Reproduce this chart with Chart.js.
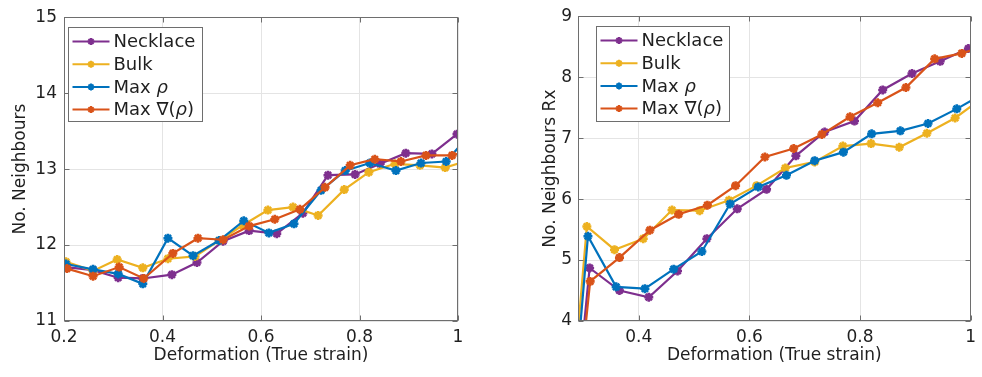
<!DOCTYPE html>
<html>
<head>
<meta charset="utf-8">
<script src="https://cdn.jsdelivr.net/npm/chart.js@4.4.0/dist/chart.umd.min.js"></script>
<style>
  html, body { margin: 0; padding: 0; background: #fff; }
  #wrap { position: relative; width: 982px; height: 377px; overflow: hidden; }
  canvas { position: absolute; top: 0; }
  #left { left: 0; }
  #right { left: 490px; }
</style>
</head>
<body>
<div id="wrap">
  <canvas id="left" width="490" height="377"></canvas>
  <canvas id="right" width="492" height="377"></canvas>
</div>
<script>
// ── Data ────────────────────────────────────────────────────────

const SERIES_NAMES  = ["Necklace", "Bulk", "Max ρ", "Max ∇(ρ)"];
const SERIES_COLORS = ["#7E2F8E", "#EDB120", "#0072BD", "#D95319"];

const X_TITLE       = "Deformation (True strain)";
const LEFT_Y_TITLE  = "No. Neighbours";
const RIGHT_Y_TITLE = "No. Neighbours Rx";

const LEFT_X_TICKS  = [0.2, 0.4, 0.6, 0.8, 1];
const LEFT_Y_TICKS  = [11, 12, 13, 14, 15];
const RIGHT_X_TICKS = [0.4, 0.6, 0.8, 1];
const RIGHT_Y_TICKS = [4, 5, 6, 7, 8, 9];

// left panel: No. Neighbours
const L_NECKLACE_X = [0.204, 0.259, 0.310, 0.360, 0.419, 0.470, 0.523, 0.576, 0.632, 0.685, 0.736, 0.791, 0.842, 0.894, 0.947, 0.998];
const L_NECKLACE_Y = [11.71, 11.67, 11.57, 11.56, 11.61, 11.77, 12.05, 12.19, 12.15, 12.42, 12.92, 12.93, 13.07, 13.21, 13.20, 13.46];
const L_BULK_X     = [0.204, 0.259, 0.308, 0.360, 0.411, 0.466, 0.515, 0.563, 0.614, 0.665, 0.716, 0.769, 0.819, 0.872, 0.923, 0.974, 1.024];
const L_BULK_Y     = [11.78, 11.66, 11.81, 11.70, 11.82, 11.85, 12.06, 12.26, 12.46, 12.50, 12.39, 12.73, 12.96, 13.07, 13.05, 13.02, 13.12];
const L_MAXRHO_X   = [0.204, 0.259, 0.310, 0.360, 0.411, 0.462, 0.515, 0.565, 0.616, 0.667, 0.722, 0.771, 0.821, 0.874, 0.925, 0.976, 1.026];
const L_MAXRHO_Y   = [11.75, 11.68, 11.62, 11.49, 12.09, 11.86, 12.06, 12.32, 12.16, 12.28, 12.72, 12.98, 13.08, 12.98, 13.08, 13.10, 13.47];
const L_MAXGRAD_X  = [0.206, 0.259, 0.312, 0.362, 0.421, 0.472, 0.523, 0.576, 0.628, 0.679, 0.730, 0.781, 0.831, 0.884, 0.935, 0.988, 1.039];
const L_MAXGRAD_Y  = [11.69, 11.59, 11.71, 11.56, 11.89, 12.09, 12.07, 12.25, 12.34, 12.47, 12.76, 13.05, 13.13, 13.10, 13.18, 13.18, 13.28];

// right panel: No. Neighbours Rx
const R_NECKLACE_X = [0.259, 0.311, 0.365, 0.418, 0.470, 0.523, 0.578, 0.631, 0.684, 0.736, 0.790, 0.841, 0.894, 0.945, 0.996];
const R_NECKLACE_Y = [0, 4.87, 4.50, 4.39, 4.82, 5.35, 5.84, 6.16, 6.71, 7.10, 7.28, 7.79, 8.06, 8.26, 8.47];
const R_BULK_X     = [0.254, 0.306, 0.356, 0.408, 0.460, 0.510, 0.563, 0.613, 0.665, 0.718, 0.769, 0.820, 0.871, 0.921, 0.972, 1.022];
const R_BULK_Y     = [0, 5.55, 5.17, 5.35, 5.82, 5.81, 5.98, 6.22, 6.51, 6.61, 6.87, 6.91, 6.85, 7.08, 7.33, 7.66];
const R_MAXRHO_X   = [0.257, 0.308, 0.359, 0.411, 0.463, 0.514, 0.565, 0.616, 0.667, 0.718, 0.770, 0.821, 0.873, 0.923, 0.975, 1.026];
const R_MAXRHO_Y   = [0, 5.39, 4.56, 4.53, 4.85, 5.14, 5.92, 6.20, 6.39, 6.63, 6.77, 7.07, 7.12, 7.24, 7.48, 7.74];
const R_MAXGRAD_X  = [0.259, 0.312, 0.365, 0.420, 0.472, 0.524, 0.575, 0.628, 0.680, 0.731, 0.782, 0.832, 0.883, 0.935, 0.984, 1.035];
const R_MAXGRAD_Y  = [0, 4.65, 5.04, 5.49, 5.75, 5.90, 6.22, 6.69, 6.83, 7.06, 7.35, 7.58, 7.83, 8.30, 8.39, 8.54];

// ── Style ───────────────────────────────────────────────────────

const FONT       = "DejaVu Sans";
const TEXT_COLOR = "#1f1f1f";
const AXIS_COLOR = "#6e6e6e";
const GRID_COLOR = "#e4e4e4";
const TICK_LEN   = 5;

// ── MATLAB-like box, inner ticks and legend ─────────────────────

function drawStar(ctx, x, y, r) {
  const d = r * Math.SQRT1_2;
  ctx.beginPath();
  ctx.moveTo(x - r, y); ctx.lineTo(x + r, y);
  ctx.moveTo(x, y - r); ctx.lineTo(x, y + r);
  ctx.moveTo(x - d, y - d); ctx.lineTo(x + d, y + d);
  ctx.moveTo(x - d, y + d); ctx.lineTo(x + d, y - d);
  ctx.stroke();
}

function drawLabel(ctx, text, x, y, size) {
  // rho in italic like the TeX interpreter does
  text.split(/(ρ)/).forEach(part => {
    if (!part) return;
    ctx.font = (part === "ρ" ? "italic " : "") + size + "px '" + FONT + "'";
    ctx.fillText(part, x, y);
    x += ctx.measureText(part).width;
  });
}

const matlabAxes = {
  id: "matlabAxes",
  afterDraw(chart, args, opts) {
    const { ctx, chartArea: a, scales } = chart;
    const L = Math.round(a.left) + 0.5, R = Math.round(a.right) - 0.5;
    const T = Math.round(a.top) + 0.5, B = Math.round(a.bottom) - 0.5;
    ctx.save();
    ctx.strokeStyle = AXIS_COLOR;
    ctx.lineWidth = 1;
    ctx.beginPath();
    scales.x.ticks.forEach(t => {
      const px = Math.round(scales.x.getPixelForValue(t.value)) + 0.5;
      ctx.moveTo(px, B); ctx.lineTo(px, B - TICK_LEN);
      ctx.moveTo(px, T); ctx.lineTo(px, T + TICK_LEN);
    });
    scales.y.ticks.forEach(t => {
      const py = Math.round(scales.y.getPixelForValue(t.value)) + 0.5;
      ctx.moveTo(L, py); ctx.lineTo(L + TICK_LEN, py);
      ctx.moveTo(R, py); ctx.lineTo(R - TICK_LEN, py);
    });
    ctx.stroke();
    ctx.strokeRect(L, T, R - L, B - T);

    // legend
    const lg = opts.legend;
    const x0 = Math.round(a.left + lg.dx) + 0.5, y0 = Math.round(a.top + lg.dy) + 0.5;
    ctx.fillStyle = "#fff";
    ctx.fillRect(x0, y0, lg.w, lg.h);
    ctx.strokeRect(x0, y0, lg.w, lg.h);
    ctx.textBaseline = "middle";
    ctx.textAlign = "left";
    chart.data.datasets.forEach((ds, i) => {
      const yy = y0 + 14 + i * 22.7;
      ctx.strokeStyle = ds.borderColor;
      ctx.lineWidth = 2;
      ctx.beginPath();
      ctx.moveTo(x0 + 4, yy); ctx.lineTo(x0 + 41, yy);
      ctx.stroke();
      drawStar(ctx, x0 + 22.5, yy, 3.5);
      ctx.fillStyle = TEXT_COLOR;
      drawLabel(ctx, ds.label, x0 + 45, yy + 1, 18);
    });
    ctx.restore();
  },
};

// ── Build one panel ─────────────────────────────────────────────

function makePanel(canvasId, p) {
  const datasets = p.series.map((s, i) => ({
    label: SERIES_NAMES[i],
    data: s[0].map((x, k) => ({ x, y: s[1][k] })),
    showLine: true,
    borderColor: SERIES_COLORS[i],
    backgroundColor: SERIES_COLORS[i],
    borderWidth: 2.2,
    pointStyle: "star",
    pointRadius: 4.5,
    pointBorderWidth: 2.6,
    pointBorderColor: SERIES_COLORS[i],
    order: 3 - i,
    clip: 0,
  }));

  const tickFont = { family: FONT, size: 17 };
  const titleFont = { family: FONT, size: 17 };

  return new Chart(document.getElementById(canvasId), {
    type: "scatter",
    data: { datasets },
    options: {
      responsive: false,
      animation: false,
      events: [],
      layout: { padding: { left: 0, right: p.padRight, top: 15, bottom: 0 } },
      plugins: {
        legend: { display: false },
        tooltip: { enabled: false },
        matlabAxes: { legend: p.legend },
      },
      scales: {
        x: {
          type: "linear",
          min: p.xMin,
          max: p.xMax,
          afterBuildTicks: sc => { sc.ticks = p.xTicks.map(v => ({ value: v })); },
          afterFit: sc => { sc.height = 56; },
          grid: { color: GRID_COLOR, drawTicks: false },
          border: { display: false },
          ticks: { padding: 6, color: TEXT_COLOR, font: tickFont, maxRotation: 0, callback: v => String(v) },
          title: { display: true, text: X_TITLE, color: TEXT_COLOR, font: titleFont, padding: { top: 0, bottom: 11 } },
        },
        y: {
          type: "linear",
          min: p.yMin,
          max: p.yMax,
          afterBuildTicks: sc => { sc.ticks = p.yTicks.map(v => ({ value: v })); },
          afterFit: sc => { sc.width = p.yWidth; },
          grid: { color: GRID_COLOR, drawTicks: false },
          border: { display: false },
          ticks: { padding: p.yTickPad, color: TEXT_COLOR, font: tickFont, callback: v => String(v) },
          title: { display: true, text: p.yTitle, color: TEXT_COLOR, font: titleFont, padding: { top: p.yTitlePad, bottom: 0 } },
        },
      },
    },
    plugins: [matlabAxes],
  });
}

makePanel("left", {
  series: [
    [L_NECKLACE_X, L_NECKLACE_Y],
    [L_BULK_X, L_BULK_Y],
    [L_MAXRHO_X, L_MAXRHO_Y],
    [L_MAXGRAD_X, L_MAXGRAD_Y],
  ],
  xMin: 0.2, xMax: 1, xTicks: LEFT_X_TICKS,
  yMin: 11, yMax: 15, yTicks: LEFT_Y_TICKS,
  yTitle: LEFT_Y_TITLE,
  yWidth: 64, yTickPad: 7, yTitlePad: 10.8, padRight: 32,
  legend: { dx: 4, dy: 10, w: 134, h: 94 },
});

makePanel("right", {
  series: [
    [R_NECKLACE_X, R_NECKLACE_Y],
    [R_BULK_X, R_BULK_Y],
    [R_MAXRHO_X, R_MAXRHO_Y],
    [R_MAXGRAD_X, R_MAXGRAD_Y],
  ],
  xMin: 0.29, xMax: 1, xTicks: RIGHT_X_TICKS,
  yMin: 4, yMax: 9, yTicks: RIGHT_Y_TICKS,
  yTitle: RIGHT_Y_TITLE,
  yWidth: 88, yTickPad: 6, yTitlePad: 50.8, padRight: 4.5,
  legend: { dx: 18, dy: 10, w: 133, h: 95 },
});
</script>
</body>
</html>
